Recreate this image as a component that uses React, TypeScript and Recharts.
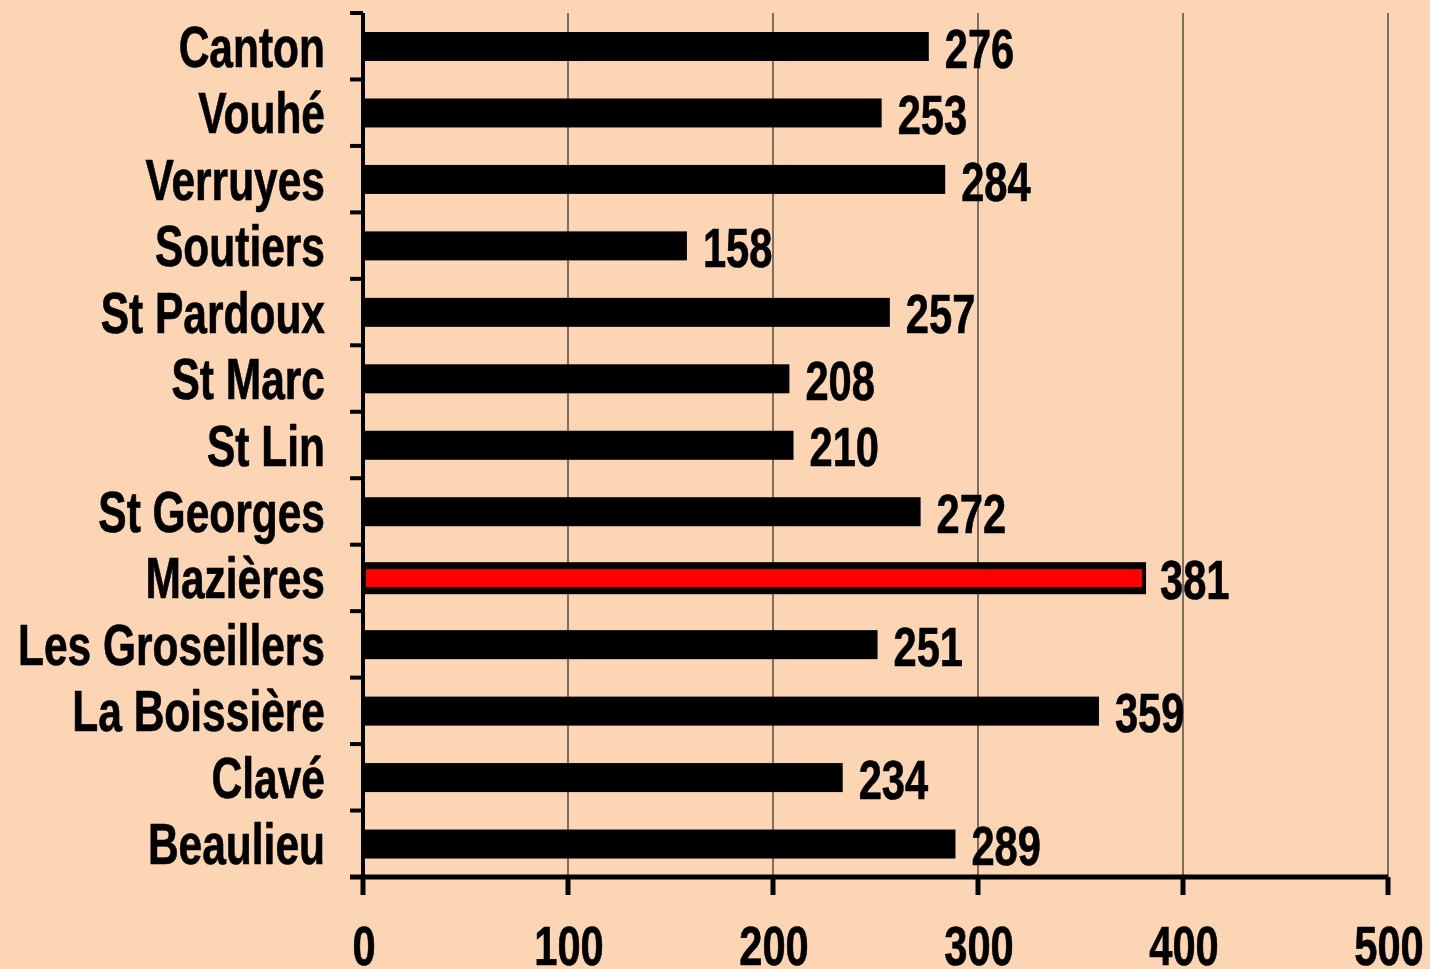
import { BarChart, Bar, XAxis, YAxis, CartesianGrid, Cell, LabelList } from "recharts";

const categories = [
  "Canton",
  "Vouhé",
  "Verruyes",
  "Soutiers",
  "St Pardoux",
  "St Marc",
  "St Lin",
  "St Georges",
  "Mazières",
  "Les Groseillers",
  "La Boissière",
  "Clavé",
  "Beaulieu",
];
const values = [276, 253, 284, 158, 257, 208, 210, 272, 381, 251, 359, 234, 289];
const xTicks = [0, 100, 200, 300, 400, 500];
const highlighted = "Mazières";

const data = categories.map((name, i) => ({ name, value: values[i] }));

const FONT = "'Liberation Sans', Arial, sans-serif";
// the original uses a narrow bold face, a bit stretched vertically
const SX = 0.85;
const SY = 1.14;

const NarrowText = ({ x, y, anchor, size, dy, children }: any) => (
  <g transform={`translate(${x},${y}) scale(${SX},${SY})`}>
    <text
      x={0}
      y={0}
      dy={dy}
      textAnchor={anchor}
      fontFamily={FONT}
      fontWeight="bold"
      fontSize={size}
      fill="#000"
      stroke="#000"
      strokeWidth={0.6}
    >
      {children}
    </text>
  </g>
);

const YTick = (props: any) => {
  const { x, y, payload } = props;
  const off = payload.offset ?? 0;
  const isLast = payload.value === categories[categories.length - 1];
  return (
    <g>
      <line x1={x + 25} x2={x + 38} y1={y - off} y2={y - off} stroke="#000" strokeWidth={4} />
      {isLast && (
        <line x1={x + 25} x2={x + 38} y1={y + off} y2={y + off} stroke="#000" strokeWidth={5} />
      )}
      <NarrowText x={x} y={y} anchor="end" size={50} dy="0.36em">
        {payload.value}
      </NarrowText>
    </g>
  );
};

const XTick = (props: any) => {
  const { x, y, payload } = props;
  return (
    <NarrowText x={x + 1} y={y + 70} anchor="middle" size={49} dy={0}>
      {payload.value}
    </NarrowText>
  );
};

const ValueLabel = (props: any) => {
  const { x, y, width, height, value } = props;
  const lx = Number(x) + Number(width) + 16;
  const ly = Number(y) + Number(height) / 2 + 1;
  return (
    <NarrowText x={lx} y={ly} anchor="start" size={49} dy="0.36em">
      {value}
    </NarrowText>
  );
};

const BarShape = (props: any) => {
  const { x, y, width, height, payload } = props;
  if (payload && payload.name === highlighted) {
    return (
      <g>
        <rect x={x} y={y - 1.5} width={width + 2} height={height + 3} fill="#000" />
        <rect x={x + 3} y={y + 5.5} width={width - 5} height={height - 11} fill="#FF0000" />
      </g>
    );
  }
  return <rect x={x} y={y} width={width} height={height} fill="#000" />;
};

export default function App() {
  return (
    <div style={{ position: "absolute", left: 0, top: 0, width: 1430, height: 969, background: "#FCD5B4" }}>
      <BarChart
        width={1430}
        height={969}
        data={data}
        layout="vertical"
        margin={{ top: 13, right: 42, bottom: 0, left: 0 }}
        barSize={29}
      >
        <CartesianGrid horizontal={false} stroke="#2a2a2a" strokeWidth={1.2} />
        <XAxis
          type="number"
          domain={[0, 500]}
          ticks={xTicks}
          height={92}
          axisLine={{ stroke: "#000", strokeWidth: 5 }}
          tickLine={{ stroke: "#000", strokeWidth: 5 }}
          tickSize={18}
          tickMargin={0}
          tick={<XTick />}
          interval={0}
        />
        <YAxis
          type="category"
          dataKey="name"
          width={363}
          axisLine={{ stroke: "#000", strokeWidth: 4 }}
          tickLine={false}
          tickSize={13}
          tickMargin={25}
          tick={<YTick />}
          interval={0}
        />
        <Bar dataKey="value" isAnimationActive={false} shape={<BarShape />}>
          {data.map((d) => (
            <Cell key={d.name} fill={d.name === highlighted ? "#FF0000" : "#000"} />
          ))}
          <LabelList dataKey="value" content={<ValueLabel />} />
        </Bar>
      </BarChart>
    </div>
  );
}
